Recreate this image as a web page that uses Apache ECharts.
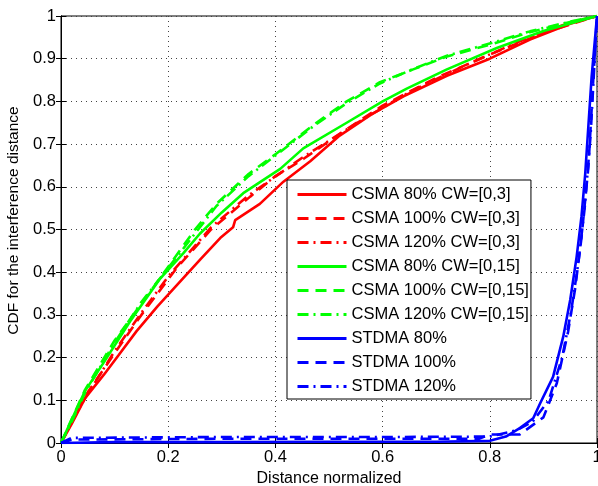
<!DOCTYPE html>
<html>
<head>
<meta charset="utf-8">
<script src="https://cdn.jsdelivr.net/npm/echarts@6/dist/echarts.min.js"></script>
<style>
  html, body { margin: 0; padding: 0; background: #fff; }
  #chart { width: 598px; height: 486px; }
</style>
</head>
<body>
<div id="chart"></div>
<script>
// tick labels
const xTicks = ['0', '0.2', '0.4', '0.6', '0.8', '1']
const yTicks = ['0', '0.1', '0.2', '0.3', '0.4', '0.5', '0.6', '0.7', '0.8', '0.9', '1']

// CDF curves, [distance, cdf]
const csma80cw3 = [[0,0],[0.02,0.045],[0.045,0.105],[0.08,0.16],[0.107,0.205],[0.141,0.262],[0.18,0.32],[0.22,0.375],[0.26,0.43],[0.297,0.48],[0.321,0.505],[0.325,0.522],[0.371,0.56],[0.415,0.612],[0.465,0.66],[0.52,0.72],[0.58,0.77],[0.639,0.812],[0.72,0.86],[0.8,0.9],[0.875,0.945],[0.95,0.982],[1,1]]
const csma100cw3 = [[0,0],[0.02,0.05],[0.045,0.11],[0.1,0.21],[0.15,0.3],[0.216,0.41],[0.28,0.5],[0.353,0.577],[0.4,0.625],[0.452,0.665],[0.533,0.735],[0.6,0.79],[0.7,0.855],[0.8,0.91],[0.9,0.96],[1,1]]
const csma120cw3 = [[0,0],[0.02,0.048],[0.045,0.105],[0.1,0.215],[0.15,0.305],[0.2,0.39],[0.28,0.505],[0.35,0.58],[0.45,0.668],[0.55,0.748],[0.65,0.822],[0.75,0.882],[0.85,0.938],[0.95,0.985],[1,1]]
const csma80cw15 = [[0,0],[0.02,0.055],[0.045,0.122],[0.079,0.187],[0.129,0.285],[0.185,0.385],[0.228,0.444],[0.259,0.49],[0.3,0.54],[0.34,0.585],[0.409,0.642],[0.452,0.69],[0.533,0.75],[0.6,0.8],[0.645,0.83],[0.72,0.875],[0.813,0.925],[0.9,0.965],[1,1]]
const csma100cw15 = [[0,0],[0.02,0.056],[0.045,0.125],[0.1,0.24],[0.191,0.397],[0.25,0.5],[0.29,0.56],[0.35,0.63],[0.402,0.678],[0.471,0.745],[0.533,0.8],[0.595,0.845],[0.657,0.875],[0.72,0.905],[0.806,0.935],[0.875,0.962],[0.95,0.986],[1,1]]
const csma120cw15 = [[0,0],[0.02,0.05],[0.045,0.118],[0.1,0.235],[0.15,0.33],[0.2,0.41],[0.29,0.555],[0.35,0.625],[0.402,0.675],[0.471,0.742],[0.533,0.796],[0.595,0.842],[0.657,0.876],[0.72,0.907],[0.806,0.938],[0.875,0.964],[0.95,0.987],[1,1]]
const stdma80 = [[0,0],[0.1,0.002],[0.3,0.002],[0.5,0.003],[0.7,0.003],[0.8,0.005],[0.83,0.015],[0.856,0.035],[0.881,0.058],[0.894,0.093],[0.918,0.155],[0.937,0.249],[0.95,0.335],[0.962,0.436],[0.971,0.53],[0.978,0.63],[0.99,0.858],[1,1]]
const stdma100 = [[0,0],[0.02,0.008],[0.3,0.01],[0.6,0.01],[0.78,0.01],[0.8,0.02],[0.83,0.02],[0.856,0.02],[0.9,0.06],[0.925,0.14],[0.946,0.26],[0.959,0.36],[0.971,0.48],[0.984,0.647],[0.993,0.85],[1,1]]
const stdma120 = [[0,0],[0.02,0.012],[0.3,0.014],[0.6,0.014],[0.8,0.015],[0.85,0.03],[0.88,0.05],[0.91,0.1],[0.935,0.2],[0.952,0.31],[0.965,0.42],[0.977,0.55],[0.988,0.72],[1,1]]

const RED = '#ff0000'
const GREEN = '#00ff00'
const BLUE = '#0000ff'
const DASH = [11, 7]
const DASHDOT = [11, 5, 2, 5]
const FONT = 'Liberation Sans, Arial, sans-serif'

const mk = (name, data, color, type) => ({
  name,
  type: 'line',
  data,
  showSymbol: false,
  symbol: 'none',
  lineStyle: { color, width: 2.6, type },
  itemStyle: { color }
})

const chart = echarts.init(document.getElementById('chart'), null, { renderer: 'canvas' })

const tickFmt = (arr) => (v) => {
  const s = String(Math.round(v * 10) / 10)
  return arr.indexOf(s) >= 0 ? s : ''
}

const boxAxis = {
  axisLine: { show: true, lineStyle: { color: '#000' } },
  axisTick: { show: true, inside: true, length: 5, lineStyle: { color: '#000' } },
  axisLabel: { show: false },
  splitLine: { show: false }
}

chart.setOption({
  animation: false,
  backgroundColor: '#fff',
  textStyle: { fontFamily: FONT },
  grid: {
    left: 61, right: 1, top: 16, bottom: 43,
    containLabel: false,
    outerBoundsMode: 'none',
    show: true, borderColor: '#000', borderWidth: 1
  },
  legend: {
    orient: 'vertical',
    left: 287,
    top: 180,
    padding: [6, 2, 4, 9],
    itemWidth: 49,
    itemHeight: 14,
    itemGap: 7,
    backgroundColor: '#fff',
    borderColor: '#000',
    borderWidth: 1,
    itemStyle: { opacity: 0, color: 'rgba(0,0,0,0)', borderWidth: 0 },
    lineStyle: { width: 3 },
    textStyle: { fontSize: 16.5, color: '#000', fontFamily: FONT }
  },
  xAxis: [
    {
      type: 'value', min: 0, max: 1, interval: 0.2,
      name: 'Distance normalized', nameLocation: 'middle', nameGap: 25,
      nameTextStyle: { fontSize: 16, color: '#000' },
      axisLine: { show: true, lineStyle: { color: '#000' } },
      axisTick: { show: true, inside: true, length: 5, lineStyle: { color: '#000' } },
      axisLabel: { fontSize: 16.5, color: '#000', margin: 6, formatter: tickFmt(xTicks) },
      splitLine: { show: true, lineStyle: { color: '#444', type: [1, 4], width: 1 } }
    },
    Object.assign({ type: 'value', min: 0, max: 1, interval: 0.2, position: 'top' }, boxAxis)
  ],
  yAxis: [
    {
      type: 'value', min: 0, max: 1, interval: 0.1,
      name: 'CDF for the interference distance', nameLocation: 'middle', nameGap: 38,
      nameTextStyle: { fontSize: 15.5, color: '#000', padding: [0, 0, 0, 18] },
      axisLine: { show: true, lineStyle: { color: '#000' } },
      axisTick: { show: true, inside: true, length: 5, lineStyle: { color: '#000' } },
      axisLabel: { fontSize: 16.5, color: '#000', margin: 5, formatter: tickFmt(yTicks) },
      splitLine: { show: true, lineStyle: { color: '#444', type: [1, 4], width: 1 } }
    },
    Object.assign({ type: 'value', min: 0, max: 1, interval: 0.1, position: 'right' }, boxAxis)
  ],
  series: [
    mk('CSMA 80% CW=[0,3]', csma80cw3, RED, 'solid'),
    mk('CSMA 100% CW=[0,3]', csma100cw3, RED, DASH),
    mk('CSMA 120% CW=[0,3]', csma120cw3, RED, DASHDOT),
    mk('CSMA 80% CW=[0,15]', csma80cw15, GREEN, 'solid'),
    mk('CSMA 100% CW=[0,15]', csma100cw15, GREEN, DASH),
    mk('CSMA 120% CW=[0,15]', csma120cw15, GREEN, DASHDOT),
    mk('STDMA 80%', stdma80, BLUE, 'solid'),
    mk('STDMA 100%', stdma100, BLUE, DASH),
    mk('STDMA 120%', stdma120, BLUE, DASHDOT)
  ]
})
</script>
</body>
</html>
